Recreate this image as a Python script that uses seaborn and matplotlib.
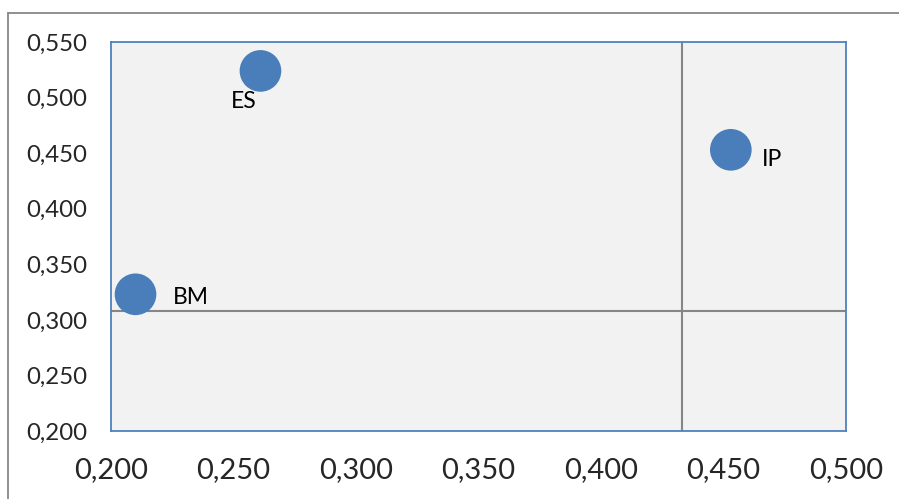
import matplotlib
matplotlib.use("Agg")
import matplotlib.pyplot as plt
import seaborn as sns
import pandas as pd

# Indicator values per unit
labels = ["ES", "IP", "BM"]
x_values = [0.261, 0.453, 0.210]
y_values = [0.524, 0.453, 0.323]

# Quadrant divider lines
x_divider = 0.433
y_divider = 0.308

x_ticks = [0.200, 0.250, 0.300, 0.350, 0.400, 0.450, 0.500]
y_ticks = [0.200, 0.250, 0.300, 0.350, 0.400, 0.450, 0.500, 0.550]

df = pd.DataFrame({"label": labels, "x": x_values, "y": y_values})

sns.set_theme(style="white")
plt.rcParams["font.family"] = ["Lato", "DejaVu Sans"]

fig = plt.figure(figsize=(8.99, 4.99), dpi=100)
ax = fig.add_axes([0.1235, 0.1363, 0.8175, 0.7795])
ax.set_facecolor("#f2f2f2")

ax.axvline(x_divider, color="#868686", lw=1.5, zorder=1)
ax.axhline(y_divider, color="#868686", lw=1.5, zorder=1)

sns.scatterplot(data=df, x="x", y="y", s=900, color="#4a7ebb",
                edgecolor="none", ax=ax, zorder=3, legend=False)

offsets = {"ES": (-12, -22, "center"), "IP": (22, -7, "left"), "BM": (27, -2, "left")}
for lab, xv, yv in zip(labels, x_values, y_values):
    dx, dy, ha = offsets[lab]
    ax.annotate(lab, (xv, yv), xytext=(dx, dy), textcoords="offset points",
                ha=ha, va="center", fontsize=16.5, color="#000000")

ax.set_xlim(0.2, 0.5)
ax.set_ylim(0.2, 0.55)
ax.set_xticks(x_ticks)
ax.set_yticks(y_ticks)
ax.set_xticklabels([f"{v:.3f}".replace(".", ",") for v in x_ticks], fontsize=21)
ax.set_yticklabels([f"{v:.3f}".replace(".", ",") for v in y_ticks], fontsize=17.3)
ax.tick_params(axis="x", length=0, pad=19)
ax.tick_params(axis="y", length=0, pad=17)
ax.set_xlabel("")
ax.set_ylabel("")

for sp in ax.spines.values():
    sp.set_visible(True)
    sp.set_color("#4f81bd")
    sp.set_linewidth(1.3)

# Outer chart frame (left and top edges)
fig.add_artist(plt.Line2D([8 / 899, 8 / 899], [0, 1 - 13 / 499], transform=fig.transFigure,
                          color="#878787", lw=1.3))
fig.add_artist(plt.Line2D([8 / 899, 1], [1 - 13 / 499, 1 - 13 / 499], transform=fig.transFigure,
                          color="#878787", lw=1.3))

fig.savefig("out.png", dpi=100)
